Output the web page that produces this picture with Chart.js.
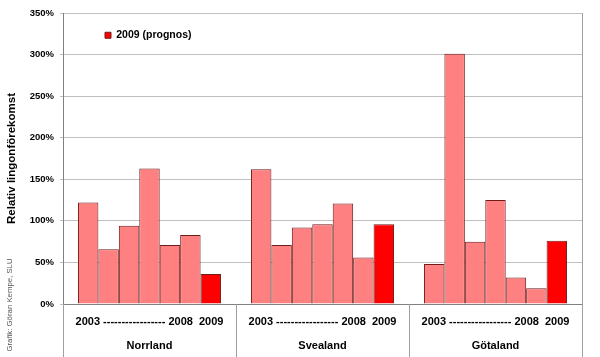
<!DOCTYPE html>
<html>
<head>
<meta charset="utf-8">
<script src="https://cdn.jsdelivr.net/npm/chart.js@4"></script>
<style>
  html, body { margin: 0; padding: 0; background: #ffffff; }
  #wrap { width: 600px; height: 357px; }
</style>
</head>
<body>
<div id="wrap"><canvas id="c" width="600" height="357"></canvas></div>
<script>
const regions = ['Norrland', 'Svealand', 'Götaland'];
const yearRow = '2003 ----------------- 2008  2009';
const years = ['2003', '2004', '2005', '2006', '2007', '2008', '2009 (prognos)'];
const v2003 = [122, 162, 48];
const v2004 = [66, 71, 301];
const v2005 = [94, 92, 75];
const v2006 = [163, 96, 125];
const v2007 = [71, 121, 32];
const v2008 = [83, 56, 19];
const v2009 = [36, 96, 76];
const yTicks = [0, 50, 100, 150, 200, 250, 300, 350];
const yTitle = 'Relativ lingonförekomst';
const credit = 'Grafik: Göran Kempe, SLU';

const series = [v2003, v2004, v2005, v2006, v2007, v2008, v2009];
const FONT = '"Liberation Sans", Arial, sans-serif';

const datasets = series.map((vals, i) => ({
  label: years[i],
  data: vals,
  backgroundColor: i === 6 ? '#ff0000' : '#ff8080',
  borderColor: '#6e1c1c',
  borderWidth: 1,
  categoryPercentage: 0.827,
  barPercentage: 1.0
}));

const extras = {
  id: 'extras',
  afterLayout(chart) {
    if (chart.legend) {
      chart.legend.left += 32;
      chart.legend.right += 32;
      chart.legend.top += 20;
      chart.legend.bottom += 20;
    }
  },
  afterDraw(chart) {
    const ctx = chart.ctx;
    const a = chart.chartArea;
    const xs = chart.scales.x;
    ctx.save();
    ctx.strokeStyle = '#a0a0a0';
    ctx.lineWidth = 1;
    ctx.beginPath();
    ctx.moveTo(Math.round(a.right) + 0.5, a.top);
    ctx.lineTo(Math.round(a.right) + 0.5, a.bottom);
    ctx.stroke();
    // category dividers below the axis
    const half = (xs.getPixelForValue(1) - xs.getPixelForValue(0)) / 2;
    const bounds = [a.left];
    for (let i = 0; i < regions.length; i++) bounds.push(xs.getPixelForValue(i) + half);
    ctx.beginPath();
    bounds.forEach((bx) => {
      const px = Math.round(bx) + 0.5;
      ctx.moveTo(px, a.bottom);
      ctx.lineTo(px, chart.height);
    });
    ctx.stroke();
    ctx.translate(10, 305);
    ctx.rotate(-Math.PI / 2);
    ctx.fillStyle = '#555555';
    ctx.font = '7.8px ' + FONT;
    ctx.textAlign = 'center';
    ctx.textBaseline = 'middle';
    ctx.fillText(credit, 0, 0);
    ctx.restore();
  }
};

new Chart(document.getElementById('c'), {
  type: 'bar',
  data: {
    labels: regions.map(r => [yearRow, r]),
    datasets: datasets
  },
  plugins: [extras],
  options: {
    responsive: false,
    animation: false,
    layout: { padding: { left: 0, right: 18, top: 13, bottom: -7 } },
    plugins: {
      tooltip: { enabled: false },
      legend: {
        position: 'chartArea',
        align: 'start',
        labels: {
          filter: (item) => item.datasetIndex === 6,
          boxWidth: 6,
          boxHeight: 6,
          color: '#000',
          font: { family: FONT, size: 10.5, weight: 'bold' }
        }
      }
    },
    scales: {
      x: {
        grid: {
          offset: true,
          drawOnChartArea: false,
          drawTicks: false
        },
        border: { color: '#808080' },
        ticks: {
          autoSkip: false,
          maxRotation: 0,
          minRotation: 0,
          padding: 6,
          color: '#000',
          font: { family: FONT, size: 11, weight: 'bold', lineHeight: '24px' }
        }
      },
      y: {
        min: 0,
        max: 350,
        afterFit(scale) { scale.width = 63; },
        afterBuildTicks(scale) { scale.ticks = yTicks.map(v => ({ value: v })); },
        grid: { color: '#c0c0c0', tickLength: 3, drawTicks: true },
        border: { color: '#808080' },
        ticks: {
          padding: 6,
          color: '#000',
          font: { family: FONT, size: 9.5, weight: 'bold' },
          callback: (v) => v + '%'
        },
        title: {
          display: true,
          text: yTitle,
          color: '#000',
          padding: { top: 5, bottom: 0 },
          font: { family: FONT, size: 11.5, weight: 'bold' }
        }
      }
    }
  }
});
</script>
</body>
</html>
